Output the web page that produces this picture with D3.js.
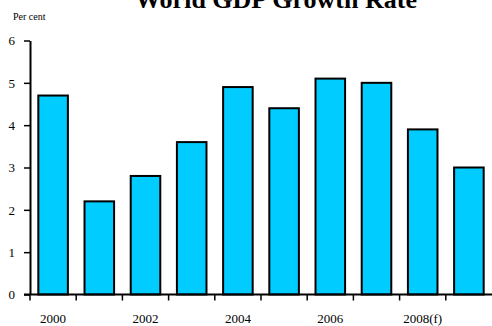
<!DOCTYPE html>
<html><head><meta charset="utf-8">
<script src="https://cdn.jsdelivr.net/npm/d3@7"></script>
<style>
html,body{margin:0;padding:0;background:#fff;}
svg{display:block;}
text{font-family:"Liberation Serif","Times New Roman",serif;fill:#000;}
</style></head>
<body>
<script>
const categories = ["2000","2001","2002","2003","2004","2005","2006","2007","2008(f)","2009(f)"];
const values = [4.7, 2.2, 2.8, 3.6, 4.9, 4.4, 5.1, 5.0, 3.9, 3.0];
const xTickLabels = ["2000","2002","2004","2006","2008(f)"];
const yTicks = [0,1,2,3,4,5,6];
const title = "World GDP Growth Rate";
const yUnit = "Per cent";

const W = 492, H = 326;
const FONT = "'Liberation Serif', 'Times New Roman', serif";
const svg = d3.select("body").append("svg").attr("width", W).attr("height", H)
  .attr("font-family", FONT);

const x = d3.scaleBand().domain(categories).range([30, 492]).paddingInner(0.36).paddingOuter(0.18);
const y = d3.scaleLinear().domain([0, 6]).range([294.5, 40.5]);

// title
svg.append("text").attr("x", 276).attr("y", 8).attr("text-anchor", "middle")
  .attr("font-family", FONT)
  .style("font-size", "26px").style("font-weight", "bold").text(title);
svg.append("text").attr("x", 13).attr("y", 20).attr("font-family", FONT)
  .style("font-size", "10px").text(yUnit);

// bars
svg.append("g").selectAll("rect").data(values).join("rect")
  .attr("x", (d, i) => x(categories[i]))
  .attr("y", d => y(d))
  .attr("width", x.bandwidth())
  .attr("height", d => y(0) - y(d))
  .attr("fill", "#00CCFF").attr("stroke", "#000").attr("stroke-width", 2);

// y axis
const yAxis = svg.append("g").attr("transform", "translate(30,0)")
  .call(d3.axisLeft(y).tickValues(yTicks).tickFormat(d3.format("d")).tickSize(6).tickSizeOuter(0).tickPadding(9))
  .attr("font-family", FONT);
yAxis.select(".domain").attr("stroke", "#000").attr("stroke-width", 2);
yAxis.selectAll(".tick line").attr("stroke", "#000").attr("stroke-width", 1.5);
yAxis.selectAll("text").style("font-size", "13px");

// x axis line and category boundary ticks
const step = x.step();
const boundary = c => x(c) - (x.paddingOuter() - x.paddingInner() / 2) * step - (step - x.bandwidth()) / 2;
svg.append("line").attr("x1", 24).attr("x2", 492).attr("y1", y(0)).attr("y2", y(0))
  .attr("stroke", "#000").attr("stroke-width", 2);
svg.append("g").selectAll("line").data(categories).join("line")
  .attr("x1", boundary).attr("x2", boundary)
  .attr("y1", y(0)).attr("y2", y(0) + 6)
  .attr("stroke", "#000").attr("stroke-width", 1.5);

const xAxis = svg.append("g").attr("transform", `translate(0,${y(0)})`)
  .call(d3.axisBottom(x).tickValues(xTickLabels).tickSize(0).tickPadding(19))
  .attr("font-family", FONT);
xAxis.select(".domain").remove();
xAxis.selectAll("text").style("font-size", "13px");
</script>
</body></html>
